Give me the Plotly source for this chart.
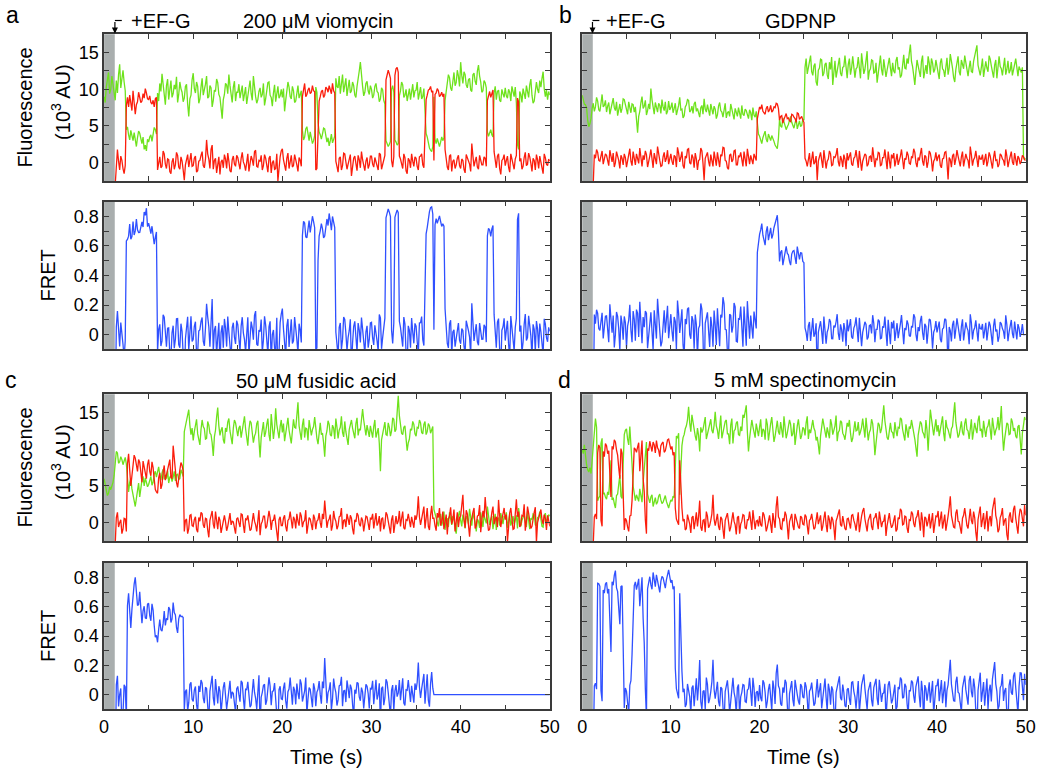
import plotly.graph_objects as go
from plotly.subplots import make_subplots

W, H = 1050, 773

# ---------------- data ----------------
frame_interval_s = 0.125
n_frames = 401
time_s = [round(i * frame_interval_s, 3) for i in range(n_frames)]
injection_dead_time_s = 1.2   # grey box: before EF-G arrives

# panel a : 200 uM viomycin
a_green = [
    9.0, 8.2, 10.3, 11.6, 12.3, 9.4, 10.0, 11.8, 10.7, 9.1, 8.5, 11.2, 9.5, 12.0, 13.4, 10.2, 11.5, 12.6, 11.0, 9.8,
    4.5, 4.9, 3.8, 3.1, 4.4, 3.6, 3.0, 4.1, 2.8, 2.2, 3.4, 4.3, 4.0, 3.0, 2.6, 3.5, 1.8, 2.4, 1.6, 3.2,
    2.8, 3.5, 3.8, 2.9, 4.2, 4.8, 4.5, 3.9, 9.5, 8.4, 10.8, 9.7, 12.1, 10.3, 9.0, 7.9, 10.5, 11.4, 8.6, 10.0,
    11.2, 8.9, 9.4, 10.6, 10.0, 11.7, 8.2, 9.3, 11.0, 10.1, 9.6, 8.3, 8.8, 10.4, 10.7, 8.0, 6.3, 8.7, 9.2, 11.3,
    12.2, 10.1, 9.5, 11.0, 10.4, 8.1, 8.7, 10.3, 11.5, 9.2, 9.8, 10.7, 11.8, 8.8, 9.0, 10.5, 10.2, 7.6, 8.5, 9.9,
    9.7, 11.4, 10.9, 9.3, 8.9, 7.4, 6.0, 8.6, 9.3, 10.8, 10.6, 9.4, 12.0, 10.5, 9.1, 8.2, 10.3, 11.1, 8.4, 9.6,
    9.6, 10.7, 8.8, 9.9, 10.5, 8.4, 9.2, 10.3, 8.0, 9.0, 10.1, 11.2, 9.4, 8.5, 11.8, 10.0, 9.0, 8.1, 8.6, 9.7,
    10.2, 8.9, 9.3, 10.8, 7.8, 8.7, 9.9, 10.9, 11.0, 9.2, 8.9, 7.7, 9.5, 10.6, 8.3, 9.4, 10.4, 8.8, 9.1, 10.0,
    8.9, 10.1, 7.0, 8.5, 9.6, 11.0, 10.3, 9.0, 8.7, 10.4, 9.8, 8.2, 8.4, 9.5, 10.5, 8.8, 9.2, 9.8, 4.4, 3.1,
    3.5, 4.6, 4.9, 3.8, 3.0, 4.2, 3.4, 2.6, 3.0, 3.7, 10.3, 9.6, 5.5, 4.2, 3.8, 3.2, 3.9, 4.7, 4.6, 3.6,
    2.8, 3.4, 2.3, 3.0, 3.9, 2.7, 3.2, 3.6, 11.5, 10.4, 10.2, 11.8, 9.4, 10.9, 12.0, 9.6, 10.6, 11.5, 9.1, 10.2,
    11.3, 9.5, 9.8, 11.0, 10.5, 9.2, 8.9, 10.4, 11.9, 12.5, 13.7, 11.6, 10.4, 9.1, 9.6, 10.8, 11.1, 9.8, 9.3, 10.5,
    10.0, 8.8, 9.2, 10.4, 10.8, 9.7, 9.5, 8.3, 8.7, 10.2, 9.9, 8.5, 8.0, 3.0, 2.6, 2.2, 2.5, 2.9, 10.0, 10.5,
    9.6, 3.1, 2.8, 2.4, 2.6, 9.1, 9.8, 11.0, 10.6, 8.9, 9.2, 10.0, 8.4, 9.6, 10.1, 8.6, 9.5, 10.7, 8.9, 9.8,
    9.9, 11.0, 8.6, 9.4, 10.3, 8.7, 9.0, 10.1, 7.0, 4.0, 3.5, 2.7, 2.0, 1.7, 1.5, 2.2, 9.0, 3.2, 2.6, 3.3,
    2.7, 2.2, 2.8, 3.5, 3.0, 3.4, 8.5, 9.9, 10.5, 12.0, 11.6, 10.2, 9.8, 11.4, 12.3, 10.5, 10.9, 12.6, 11.8, 10.4,
    13.7, 11.9, 10.8, 12.4, 12.0, 10.6, 10.2, 11.3, 11.5, 9.9, 9.7, 12.0, 12.2, 11.1, 10.6, 12.5, 13.3, 11.8, 11.0, 9.6,
    9.8, 11.2, 10.9, 10.2, 4.2, 3.6, 4.0, 4.5, 3.8, 3.5, 9.5, 10.4, 8.6, 9.7, 9.9, 8.5, 8.3, 10.0, 9.4, 8.9,
    10.2, 9.1, 8.8, 10.0, 9.6, 8.4, 10.4, 9.5, 9.0, 10.3, 8.1, 2.5, 1.8, 9.7, 9.3, 8.2, 10.1, 9.4, 8.7, 10.5,
    9.8, 8.9, 10.6, 11.4, 9.2, 8.1, 8.4, 9.6, 11.0, 10.0, 9.5, 11.2, 10.3, 11.5, 12.4, 10.1, 9.0, 9.9, 8.6, 9.7,
    9.2,
]
a_red = [
    None, None, None, None, None, None, None, None, None, None, -3.0, 0.6, 1.8, 0.2, -1.0, 0.9, 0.3, -0.8, -1.5, -0.4,
    7.8, 8.9, 7.6, 9.2, 8.0, 7.1, 9.8, 8.5, 6.6, 7.9, 8.3, 9.6, 9.0, 8.2, 8.4, 9.4, 8.8, 10.1, 9.5, 8.7,
    8.6, 9.1, 8.2, 8.0, 8.5, 7.6, 8.7, 8.9, -1.0, 0.3, 0.8, -0.7, -0.5, 1.6, 1.2, -0.2, -0.8, 0.5, 0.4, -1.2,
    -1.5, 0.1, 0.6, -0.9, -0.3, 1.4, 1.0, -0.6, -0.9, 0.8, 0.2, -1.0, -2.4, -0.3, 0.7, 1.1, -0.6, 0.4, 1.3, -0.5,
    -0.4, 0.6, 0.9, -1.3, -1.1, 0.2, 0.3, 1.0, 1.5, -0.4, -0.7, 0.5, 3.1, 1.2, 0.5, -0.8, 1.8, 2.4, -0.9, 0.3,
    0.6, -1.4, -0.2, 0.8, -1.6, 0.1, 0.4, -0.7, 1.1, 0.5, -0.8, 1.3, 0.2, -1.1, -1.3, 0.4, 0.9, -0.2, -0.5, 1.0,
    0.7, -0.3, -0.9, 0.6, 1.4, 0.1, -0.3, -1.1, 0.5, 1.2, -1.2, -0.2, 0.9, 0.4, -0.4, 1.5, 1.7, -0.5, -0.6, 0.3,
    0.2, 1.0, -1.0, -0.4, 1.1, 0.6, -0.2, -1.3, 0.6, 0.9, -1.4, 0.0, 0.3, -0.9, -0.8, 1.2, -2.5, -0.6, 0.8, 1.6,
    1.9, 0.4, -0.5, -1.1, 0.6, 1.3, -0.8, 0.2, 1.0, -0.6, -0.4, 1.1, 0.5, -0.3, -1.2, 0.7, 0.3, -0.5, 9.0, 10.2,
    10.8, 9.0, 9.3, 9.9, 10.2, 9.4, 9.6, 10.5, 9.8, 9.7, -1.0, -0.8, 5.5, 8.4, 9.0, 9.7, 9.9, 8.9, 9.2, 10.3,
    10.1, 9.6, 10.5, 10.0, 9.4, 10.8, 9.8, 9.5, 0.2, -0.5, -1.3, 0.6, 0.8, -1.0, -0.4, 1.3, 1.2, 0.1, -0.9, -0.2,
    0.3, 1.1, -1.8, -0.6, 0.6, 0.9, -0.2, -1.1, 1.0, 0.4, -0.7, 1.5, 0.4, -0.5, -1.1, 0.2, 0.7, -0.8, -0.3, 0.9,
    0.9, -0.2, -0.6, 0.7, 0.2, -0.4, -1.0, 1.3, 1.1, -0.9, -0.2, 0.5, 1.0, 11.3, 11.8, 12.6, 12.1, 11.5, 0.3, -0.6,
    0.8, 11.9, 12.8, 13.0, 12.3, 0.9, 0.5, -0.3, -0.8, 1.2, 0.7, -1.1, -1.5, 0.6, 0.3, -0.7, 1.2, 0.2, -0.5, 0.8,
    0.6, -0.5, -1.0, 0.8, 0.9, 1.2, -0.3, -0.7, 4.0, 8.6, 9.2, 9.9, 10.0, 10.4, 9.6, 9.8, 0.3, 9.3, 9.5, 10.1,
    9.8, 9.0, 9.2, 9.6, 9.0, 9.4, 1.8, 0.5, -0.6, -1.0, 0.9, 1.1, -1.2, 0.2, 0.4, -0.8, -0.3, 0.6, 1.0, -0.4,
    -0.8, 0.5, 0.3, -0.9, -1.4, 1.1, 0.7, 0.3, -0.2, -1.2, 2.6, 0.9, -0.5, 0.2, 0.8, -0.6, -0.9, 1.0, 0.4, -0.3,
    -0.3, 0.8, 0.6, -0.5, 8.5, 9.2, 9.7, 8.9, 9.6, 9.9, 1.5, 0.4, -0.7, 0.9, 1.2, -0.8, -1.6, 0.3, 0.5, 1.1,
    -0.4, 0.3, 0.9, -0.6, -1.3, 1.2, 0.3, -0.2, -0.9, 0.5, 1.0, 8.8, 8.3, 0.2, 0.6, -0.9, -0.5, 0.7, 1.4, -0.4,
    -0.2, 1.3, 0.8, -0.1, -1.2, 0.6, 0.3, -1.0, 1.1, 0.4, -0.8, 0.9, 0.2, -0.7, -1.5, 1.2, 0.7, -0.2, -0.4, 0.5,
    0.2,
]
a_bleach_s = None

# panel b : GDPNP
b_green = [
    9.2, 8.6, 8.0, 7.9, 7.5, 5.8, 4.9, 5.3, 6.0, 7.4, 8.1, 7.0, 7.6, 8.9, 8.4, 7.2, 7.0, 8.1, 9.3, 7.6,
    7.8, 8.5, 6.9, 7.7, 8.2, 6.6, 7.3, 8.0, 8.8, 7.5, 7.1, 8.3, 6.4, 7.2, 8.0, 6.8, 7.4, 8.7, 8.6, 7.9,
    7.2, 6.6, 8.3, 7.5, 6.8, 8.0, 7.9, 6.9, 7.6, 5.9, 4.1, 6.3, 7.0, 8.2, 9.0, 7.4, 7.7, 8.5, 6.5, 7.1,
    8.0, 7.3, 10.1, 8.6, 7.3, 6.6, 8.2, 7.5, 6.9, 8.1, 7.8, 6.7, 8.6, 7.6, 7.1, 8.3, 6.6, 7.0, 8.4, 7.2,
    7.5, 8.2, 6.8, 7.4, 8.1, 6.5, 7.0, 7.8, 8.9, 7.2, 7.3, 6.1, 6.4, 7.6, 7.9, 8.6, 8.5, 6.9, 7.1, 7.7,
    6.7, 8.0, 8.3, 7.0, 7.4, 6.8, 6.2, 7.5, 7.8, 6.6, 8.7, 7.3, 6.9, 7.9, 7.2, 6.4, 8.0, 7.1, 6.6, 7.7,
    7.3, 6.0, 6.5, 7.7, 8.2, 7.1, 6.9, 6.2, 7.6, 8.1, 6.1, 6.8, 7.0, 6.3, 8.0, 7.2, 6.7, 5.9, 7.4, 6.8,
    6.3, 7.5, 6.9, 6.0, 7.8, 6.6, 6.4, 7.3, 7.1, 6.5, 6.0, 7.2, 6.8, 5.8, 7.5, 6.5, 6.2, 7.0, 4.8, 3.9,
    3.6, 3.0, 2.6, 3.4, 3.8, 4.3, 3.2, 2.8, 3.9, 3.5, 3.0, 3.7, 3.4, 2.9, 2.4, 2.2, 1.9, 3.3, 5.9, 5.0,
    4.8, 6.1, 5.6, 5.3, 4.5, 4.9, 5.2, 5.8, 6.3, 5.5, 5.0, 4.7, 5.4, 6.0, 4.6, 5.2, 5.7, 4.9, 5.1, 5.9,
    5.8, 13.0, 14.2, 12.1, 12.8, 13.9, 14.6, 12.4, 11.9, 13.2, 13.5, 11.0, 10.5, 12.6, 12.9, 14.1, 14.0, 11.8, 12.2, 13.4,
    13.6, 12.0, 11.4, 13.7, 12.7, 14.4, 10.6, 12.3, 13.9, 11.6, 12.5, 13.8, 14.3, 12.2, 11.8, 13.0, 13.1, 14.6, 12.4, 11.5,
    13.4, 14.2, 12.0, 12.9, 14.5, 13.1, 11.6, 12.8, 13.0, 14.4, 12.6, 11.5, 14.9, 13.3, 12.1, 12.7, 13.7, 15.2, 11.3, 12.5,
    12.8, 14.0, 13.9, 12.2, 12.3, 13.6, 10.9, 12.4, 13.2, 14.6, 12.7, 11.9, 14.1, 13.0, 11.7, 12.6, 13.5, 14.3, 12.9, 11.8,
    13.6, 12.5, 12.2, 13.9, 14.4, 12.7, 13.0, 11.6, 11.9, 13.4, 14.7, 12.9, 12.8, 14.2, 13.5, 14.9, 16.1, 13.8, 13.1, 11.9,
    10.6, 12.4, 14.0, 13.2, 12.5, 11.7, 13.8, 14.6, 11.5, 12.8, 13.3, 12.1, 14.5, 13.6, 12.0, 14.2, 13.6, 12.3, 12.7, 14.0,
    13.2, 12.1, 11.4, 13.6, 14.2, 12.8, 12.6, 11.7, 13.5, 14.3, 12.0, 12.9, 14.8, 13.4, 12.9, 11.6, 11.0, 12.7, 13.7, 14.5,
    12.4, 11.9, 14.0, 13.1, 12.8, 14.6, 13.4, 12.2, 11.8, 13.0, 13.9, 12.4, 12.3, 13.8, 14.4, 15.1, 16.0, 13.3, 12.5, 11.9,
    13.0, 14.2, 11.7, 12.6, 13.8, 12.9, 12.4, 14.6, 14.1, 13.2, 12.2, 11.6, 13.3, 14.0, 11.5, 12.8, 14.5, 13.1, 12.8, 11.9,
    13.6, 14.3, 12.0, 12.7, 13.9, 12.2, 12.6, 13.7, 11.9, 12.5, 13.4, 14.2, 12.7, 11.8, 13.1, 12.6, 12.3, 13.0, 0.8, 0.4,
    0.6,
]
b_red = [
    None, None, None, None, None, None, None, None, None, None, -3.0, 1.1, 0.6, 1.8, 1.4, 0.3, 0.2, 0.9, 1.6, -0.2,
    0.5, 1.2, 1.0, 0.4, -0.4, 1.7, 0.8, 0.1, 1.3, -0.6, 0.0, 1.5, 0.9, 0.3, -0.8, 1.0, 0.6, -0.3, 1.2, 0.7,
    -0.6, 0.4, 0.9, 1.9, 0.2, -0.4, 1.5, 0.8, -0.3, 1.2, 0.7, -0.1, 2.0, 0.6, -0.5, 1.0, 0.4, 1.6, 1.1, -0.6,
    0.0, 0.9, 1.8, 0.2, -0.7, 1.3, 0.5, -0.2, 2.2, 1.0, 0.3, -0.5, -0.4, 0.8, 1.4, 0.1, 0.6, 1.7, -0.2, 0.5,
    1.2, 0.2, -0.3, 1.0, 0.8, -0.6, 2.1, 1.3, 0.1, 0.7, 1.5, -0.4, -0.8, 0.9, 0.6, 1.8, 1.9, 0.0, -0.2, 1.1,
    0.7, -0.7, 1.3, 0.5, -1.0, 0.3, 0.4, 2.0, 1.6, -0.1, -2.4, 0.6, 0.9, 1.4, 0.2, -0.5, 1.1, 0.4, -0.5, 1.5,
    0.5, -0.4, 1.4, 0.6, -0.6, 1.1, 0.9, 2.1, 2.0, 0.3, 0.2, -0.7, -0.9, 1.0, 1.2, 0.1, 0.4, 1.6, 1.7, -0.3,
    -0.3, 0.9, 0.8, 1.4, 0.1, -0.5, 1.5, 0.7, -0.5, 1.9, 0.6, -0.2, 1.0, 0.4, -0.2, 1.2, 0.7, 0.3, 6.0, 7.0,
    7.6, 7.3, 7.9, 7.0, 6.8, 6.6, 7.4, 7.7, 6.9, 7.2, 7.8, 6.9, 7.1, 7.6, 7.5, 8.1, 8.0, 7.4, 5.8, 6.3,
    6.4, 5.4, 5.9, 6.4, 6.7, 6.0, 6.1, 5.7, 5.6, 6.6, 6.5, 6.2, 6.0, 5.5, 6.8, 6.7, 5.9, 6.1, 6.3, 5.8,
    5.5, 0.6, 0.2, -0.5, 0.8, 1.3, -0.6, 0.4, 1.5, -0.2, 0.1, 0.9, -2.4, 0.2, 0.9, 1.4, 0.3, -0.7, 1.7, 0.6,
    -0.8, 0.2, 0.5, 1.6, 1.2, -0.4, -0.3, 0.8, 0.7, 1.1, 2.0, 0.1, -0.5, 0.9, 0.4, -0.6, 1.1, 0.5, -0.9, 1.3,
    0.3, 0.9, 1.4, -0.2, -0.4, 0.6, 0.8, 1.7, 0.0, -0.7, 1.6, 0.4, -1.1, 0.2, 0.6, 1.2, 1.0, -0.5, -0.2, 0.8,
    0.9, 0.1, 2.1, 1.0, -0.6, 0.5, 0.4, 1.4, 1.3, -0.4, -0.3, 0.7, 0.7, 1.8, 0.2, -0.9, 1.5, 0.3, -0.8, 1.1,
    0.6, 1.3, -0.5, 0.3, 1.2, -0.3, 0.2, 0.9, 1.8, 0.5, -0.9, 0.6, 0.4, 1.5, 1.0, -0.1, -0.2, 0.8, 0.7, 1.9,
    1.4, 0.0, -0.6, 0.7, 0.3, 1.2, 2.0, 0.2, -0.4, 1.0, 0.8, -0.7, 0.1, 1.6, 1.3, 0.4, -1.2, 0.2, 0.5, 1.4,
    0.2, 0.8, 1.1, -0.4, -0.7, 0.5, 0.6, 1.4, 1.5, 0.0, -2.3, 0.7, 0.4, -0.6, 0.9, 1.2, -0.3, 0.5, 1.7, 0.9,
    0.1, -0.5, 0.8, 1.5, -0.5, 0.3, 1.2, 0.6, 0.3, -0.8, 2.2, 1.1, -0.4, 0.4, 0.7, 1.6, 0.0, -0.6, 1.0, 0.5,
    0.5, 1.1, -0.3, 0.6, 1.2, -0.5, 0.2, 1.4, 0.9, 0.0, -0.8, 0.7, 1.6, 0.3, 0.4, -0.6, -0.2, 1.2, 1.0, 0.5,
    0.3, -0.4, 1.8, 0.9, -0.6, 0.2, 0.7, 1.5, 0.1, -0.3, 1.3, 0.6, -0.4, 0.9, 0.6, -0.2, 0.2, 1.0, 0.8, 0.4,
    0.3,
]
b_bleach_s = 49.7

# panel c : 50 uM fusidic acid
c_green = [
    6.0, 5.3, 4.8, 3.7, 4.0, 4.9, 4.5, 5.0, 5.5, 6.4, 8.8, 9.7, 9.5, 8.1, 8.3, 9.0, 8.6, 7.9, 8.4, 8.9,
    8.0, 5.2, 4.2, 5.5, 6.0, 4.6, 3.8, 3.0, 2.2, 3.3, 4.5, 5.4, 3.5, 4.8, 5.8, 6.3, 5.0, 6.1, 5.6, 4.9,
    5.2, 6.0, 6.3, 5.1, 5.5, 6.6, 7.0, 6.2, 7.2, 7.6, 6.5, 5.8, 6.8, 7.3, 5.9, 6.5, 6.0, 7.1, 5.4, 6.2,
    6.4, 5.6, 6.2, 7.0, 5.7, 6.5, 6.6, 5.9, 6.0, 7.2, 6.8, 6.3, 12.4, 13.1, 13.8, 14.9, 15.4, 13.3, 12.0, 12.9,
    11.2, 12.4, 13.5, 14.1, 12.1, 11.0, 10.6, 12.7, 14.0, 13.1, 12.8, 11.4, 11.5, 13.8, 13.3, 12.2, 12.0, 10.9, 9.1, 11.7,
    12.6, 14.4, 15.7, 13.2, 11.9, 12.6, 13.0, 11.3, 10.8, 12.9, 12.4, 13.7, 14.2, 12.5, 11.6, 10.7, 12.9, 14.0, 13.6, 12.3,
    11.8, 12.9, 13.2, 11.6, 12.4, 13.5, 14.5, 12.8, 11.3, 10.5, 12.7, 13.9, 13.6, 12.1, 10.9, 11.8, 12.2, 13.5, 13.9, 11.2,
    8.9, 11.6, 12.5, 13.7, 11.7, 12.3, 13.4, 14.2, 12.0, 11.1, 14.8, 13.0, 11.4, 12.8, 15.6, 13.4, 12.6, 11.5, 13.1, 14.0,
    12.3, 13.5, 11.1, 12.2, 13.7, 14.3, 12.6, 11.4, 10.8, 12.5, 14.1, 13.0, 12.9, 14.6, 16.4, 13.2, 12.0, 11.3, 13.3, 14.2,
    11.6, 12.9, 12.8, 11.2, 14.0, 13.1, 11.9, 12.7, 13.1, 14.4, 12.4, 11.5, 10.7, 12.8, 13.6, 12.0, 12.2, 10.9, 9.0, 11.8,
    12.5, 13.9, 13.4, 12.0, 11.8, 13.3, 12.9, 11.4, 14.2, 13.0, 11.5, 12.6, 13.0, 14.5, 12.3, 11.7, 13.8, 12.4, 11.2, 10.6,
    12.7, 13.6, 14.0, 12.9, 12.1, 11.5, 13.5, 14.3, 11.9, 12.8, 12.6, 13.9, 15.5, 14.0, 12.8, 11.9, 13.3, 12.5, 11.7, 13.2,
    12.4, 11.6, 13.1, 14.0, 11.6, 12.5, 12.9, 10.8, 7.0, 11.3, 12.2, 13.4, 13.7, 12.0, 11.9, 13.6, 13.0, 11.8, 12.5, 14.3,
    14.1, 12.4, 12.7, 15.0, 17.3, 14.6, 13.5, 12.2, 12.0, 13.0, 13.2, 11.5, 9.8, 10.9, 11.4, 12.8, 12.6, 13.8, 13.4, 12.1,
    11.8, 13.0, 12.9, 14.0, 13.6, 12.3, 12.1, 13.4, 13.8, 12.0, 12.4, 13.5, 13.2, 12.2, 12.7, 13.1, 1.8, 1.2, 0.9, 0.1,
    -0.5, 0.8, 1.2, -0.4, 0.2, 1.5, -1.0, 0.3, 0.6, -0.6, 1.4, 0.5, -0.3, 0.9, 0.4, -0.8, -1.5, 0.2, 0.8, 1.6,
    0.3, -0.5, 1.1, 0.4, -0.8, 0.9, 0.6, -0.2, 1.9, 0.7, -0.4, 1.3, 0.8, 0.0, -1.2, 0.5, 0.2, -0.7, 1.4, 0.6,
    -0.6, 1.0, 0.5, -0.1, 2.2, 1.1, -0.3, 0.4, 0.9, -0.9, 0.1, 1.2, -1.0, 0.3, 0.7, -0.4, 1.3, 0.6, -0.2, 0.9,
    0.6, 1.4, -0.7, 0.2, 1.2, -0.4, 0.3, 0.9, -0.2, 0.5, 1.0, -0.8, 2.0, 0.7, -0.5, 0.3, 0.7, 1.1, 0.1, -0.6,
    1.5, 0.4, -0.9, 0.6, 0.4, 1.2, 1.1, -0.3, -0.4, 0.7, 0.8, 1.5, 0.2, -0.5, -0.6, 0.9, 1.3, 0.0, 0.5, 1.1,
    0.9,
]
c_red = [
    None, None, None, None, None, None, None, None, None, None, -3.0, 0.7, 1.4, -0.6, 0.0, 0.4, -1.5, -0.9, 0.6, 0.5,
    -1.2, 8.0, 9.4, 7.0, 5.0, 6.4, 8.5, 9.2, 8.8, 7.8, 7.0, 8.6, 8.2, 6.9, 5.5, 8.4, 7.6, 6.7, 6.0, 7.9,
    8.6, 7.0, 6.4, 8.3, 7.5, 5.9, 4.5, 4.2, 4.0, 6.1, 6.8, 4.6, 5.2, 6.9, 7.8, 5.8, 6.5, 7.4, 8.0, 8.6,
    6.2, 6.0, 10.5, 8.9, 6.8, 5.5, 4.8, 6.3, 7.2, 8.2, 7.8, 7.0, -1.2, 0.3, 0.5, -1.5, -0.8, 1.0, 1.1, -0.4,
    -0.5, 0.4, 0.8, -0.9, -1.3, 0.7, 0.2, 1.4, 1.2, -0.3, -0.7, 0.6, 0.5, -1.0, -2.0, 0.3, 0.9, 1.6, -0.2, -0.8,
    1.5, 0.2, -0.9, 0.8, 0.3, -1.4, -0.4, 0.6, 1.0, 0.1, -1.1, -0.5, 0.6, 1.3, -0.3, 0.2, 0.1, -0.8, -1.5, 0.5,
    0.7, 0.0, -0.6, 1.2, 1.1, -0.3, -1.4, 0.5, 0.4, 1.0, 0.0, -1.1, -0.9, 0.6, 1.3, 0.2, -0.3, -1.2, 0.6, 1.7,
    -1.7, -0.2, 0.2, 0.9, 0.9, -0.8, -0.5, 0.4, 1.6, 0.7, -1.0, 0.3, 0.3, 1.1, -0.2, -0.9, -2.5, 0.4, 0.8, -0.4,
    -0.4, 0.6, 1.0, -0.5, -1.2, 0.3, 0.5, 1.5, -0.1, -0.8, 0.8, 0.4, -0.8, 1.2, 0.2, -0.4, 1.4, 0.9, -0.6, 0.1,
    0.3, 1.7, -1.5, -0.3, 0.7, 0.5, -0.2, -1.0, 1.1, 0.6, -0.9, 0.2, 0.4, 1.3, 0.0, -0.7, 1.2, 0.5, 3.0, 0.9,
    -0.7, 0.2, 0.5, 1.1, -1.1, -0.4, 1.6, 0.6, 0.2, -0.9, -0.4, 0.8, 0.9, 2.0, -0.9, 0.3, 0.4, -0.6, 1.2, 0.5,
    -0.3, 1.0, 0.6, -0.8, -1.6, 0.4, 0.1, 1.3, 1.0, -0.2, -0.5, 0.7, 0.3, -1.2, -0.2, 0.9, 0.8, 0.1, -1.0, 0.6,
    0.5, 1.2, -0.8, 0.3, 1.3, -0.4, 0.0, 0.9, -1.2, 0.5, 0.7, -0.9, -0.3, 1.4, 1.1, 0.2, -0.6, -1.5, 0.4, 1.0,
    -1.4, 0.3, 0.9, -0.2, 0.2, 1.6, -0.5, 0.6, 1.5, -0.7, -0.9, 0.4, 0.3, 1.2, -0.1, -0.6, 0.8, 0.2, -0.7, 1.0,
    0.4, 1.2, 3.6, 0.8, -0.3, 0.5, 1.2, 2.2, -0.8, 0.3, 2.0, -0.5, -1.0, 1.0, 2.3, 0.6, 0.6, -0.4, -1.1, 1.3,
    0.7, 2.0, -0.4, 0.2, 1.5, -0.9, 0.3, 1.1, -1.6, 0.5, 0.9, 2.1, -0.2, 0.4, 1.8, -1.2, 0.1, 1.4, -0.6, 0.7,
    0.9, 2.1, 3.8, 0.4, -0.7, 1.7, 1.2, -0.3, -1.9, 0.2, 0.6, 1.4, 2.0, -0.8, -0.4, 0.9, 1.0, 2.4, -1.3, 0.3,
    1.6, 0.7, 3.5, 1.5, 0.2, -1.1, -0.9, 0.6, 1.4, 2.2, -0.2, 0.5, 0.8, -0.6, 3.1, 1.0, -0.6, 0.4, 1.1, 2.0,
    0.4, 1.1, -2.6, 0.3, 1.3, 2.0, 0.2, -0.9, -0.8, 1.2, 3.2, 0.8, 1.5, -0.6, -0.3, 1.0, 0.9, 2.5, -1.1, 0.2,
    2.2, 1.3, 0.5, -0.8, -0.5, 0.7, 1.4, 2.1, -2.7, 0.0, 0.7, 1.5, 1.8, 0.4, -0.2, 1.1, 0.6, -1.0, 1.0, 0.3,
    -0.5,
]
c_bleach_s = 37.0

# panel d : 5 mM spectinomycin
d_green = [
    10.0, 9.4, 10.6, 9.0, 7.9, 7.2, 6.9, 7.5, 6.7, 8.4, 10.6, 12.5, 14.2, 13.0, 3.0, 3.4, 3.6, 10.8, 11.5, 3.9,
    4.0, 3.5, 3.2, 4.2, 3.8, 6.0, 8.5, 3.1, 3.4, 2.6, 2.0, 3.7, 3.9, 5.2, 6.5, 3.6, 3.3, 8.0, 12.0, 12.6,
    12.8, 11.4, 10.6, 13.1, 9.5, 8.0, 5.0, 3.5, 3.0, 3.8, 3.4, 2.9, 4.6, 3.6, 2.8, 5.5, 7.8, 10.0, 11.0, 3.9,
    3.2, 2.7, 3.5, 3.8, 2.2, 3.0, 3.4, 2.5, 2.8, 3.6, 3.9, 3.1, 2.6, 2.8, 3.3, 3.7, 2.9, 2.4, 2.0, 2.6,
    3.1, 2.9, 3.6, 3.4, 9.0, 11.8, 11.5, 12.2, 3.8, 8.8, 10.5, 11.6, 12.0, 12.8, 13.2, 14.0, 15.8, 13.6, 12.4, 14.7,
    13.6, 12.2, 11.8, 11.2, 12.9, 11.9, 9.7, 13.0, 12.3, 12.7, 13.5, 14.4, 11.4, 12.0, 12.8, 13.4, 14.1, 12.6, 12.2, 13.3,
    15.1, 13.2, 12.6, 11.4, 13.4, 14.6, 11.5, 12.3, 12.9, 13.8, 14.0, 12.1, 12.1, 10.7, 13.3, 14.2, 10.8, 12.5, 12.7, 13.6,
    13.8, 12.0, 11.9, 13.1, 12.5, 14.7, 14.3, 15.2, 16.0, 12.4, 9.7, 11.5, 12.8, 14.0, 13.1, 12.2, 11.6, 13.5, 12.4, 11.8,
    13.0, 14.1, 11.7, 12.8, 12.6, 11.3, 14.2, 13.4, 11.2, 12.6, 13.5, 14.4, 12.3, 11.0, 11.8, 12.9, 13.9, 12.4, 12.0, 13.7,
    12.7, 11.6, 14.5, 13.3, 11.5, 12.2, 12.9, 14.0, 13.4, 11.8, 12.1, 13.6, 10.6, 12.3, 13.2, 14.1, 12.5, 11.4, 11.9, 13.0,
    12.8, 11.9, 13.6, 14.5, 11.4, 12.7, 12.2, 13.5, 14.0, 12.9, 12.5, 11.2, 11.7, 10.6, 9.3, 11.8, 12.9, 14.2, 13.3, 12.1,
    11.6, 13.0, 12.4, 11.5, 14.1, 13.4, 12.0, 12.8, 13.2, 14.6, 11.1, 12.3, 12.6, 13.9, 13.7, 12.2, 11.9, 11.3, 12.8, 13.6,
    13.1, 14.0, 12.2, 11.0, 11.5, 12.8, 13.8, 12.5, 12.6, 13.7, 11.9, 12.4, 13.0, 14.2, 12.4, 11.6, 14.3, 13.0, 11.2, 12.3,
    12.7, 14.1, 13.5, 11.8, 9.2, 10.8, 12.1, 13.6, 13.3, 12.2, 12.8, 14.6, 16.0, 13.9, 12.5, 11.6, 11.3, 12.9, 13.6, 12.4,
    12.3, 11.5, 13.7, 12.6, 11.8, 13.0, 12.9, 14.3, 14.1, 12.7, 12.0, 11.2, 13.4, 12.5, 11.6, 13.1, 12.8, 14.0, 13.2, 12.1,
    11.4, 10.2, 9.0, 11.9, 12.7, 13.8, 13.5, 12.4, 12.1, 11.5, 14.0, 12.6, 9.8, 13.1, 15.4, 14.2, 12.6, 11.9, 13.0, 14.1,
    12.4, 13.3, 11.8, 12.6, 13.6, 14.5, 12.2, 11.1, 14.0, 13.0, 12.7, 11.9, 11.5, 12.8, 13.1, 14.8, 16.4, 13.7, 12.9, 11.6,
    12.0, 13.2, 13.8, 12.3, 11.9, 13.5, 14.2, 12.7, 12.5, 11.4, 13.0, 14.1, 11.3, 12.2, 13.6, 12.8, 12.2, 13.9, 14.6, 12.5,
    12.8, 11.6, 13.9, 12.7, 11.7, 12.9, 13.2, 14.1, 12.4, 11.3, 14.3, 13.0, 11.9, 12.6, 13.0, 14.4, 12.6, 13.8, 15.9, 12.3,
    9.8, 11.4, 12.5, 13.6, 13.4, 12.0, 12.1, 14.2, 13.7, 12.5, 12.9, 11.8, 11.5, 13.1, 13.3, 10.9, 9.3, 12.2, 13.8, 14.4,
    14.0,
]
d_red = [
    None, None, None, None, None, None, None, None, None, None, -3.0, 0.8, 1.2, 0.5, 9.5, 10.6, 10.2, 0.3, -0.5, 9.7,
    9.0, 10.8, 10.5, 9.4, 9.8, 6.0, 3.5, 10.4, 10.0, 11.3, 11.0, 9.9, 9.2, 7.5, 6.0, 10.1, 9.5, 4.0, -1.0, 0.6,
    0.3, -0.6, -1.2, 0.9, 1.0, 3.0, 7.5, 10.2, 10.0, 9.6, 10.3, 10.9, 7.0, 9.8, 11.2, 6.0, 4.2, 0.4, -1.5, 10.1,
    9.8, 11.1, 10.4, 9.7, 11.0, 10.6, 9.5, 11.2, 10.2, 9.9, 9.0, 10.5, 10.8, 11.0, 9.6, 9.8, 10.5, 11.3, 11.4, 10.7,
    10.0, 10.4, 9.2, 9.6, 2.0, 0.5, 0.0, -0.3, 8.5, 4.0, 2.0, 0.2, 0.5, -1.0, -0.8, 1.1, 0.6, -0.2, -1.4, 0.7,
    0.9, -0.9, 0.2, 1.4, -0.5, 0.8, 3.0, -0.6, -1.1, 0.3, 0.4, -1.3, 1.5, 0.9, -0.7, -0.4, 0.3, 1.2, 3.8, 0.5,
    -0.4, 0.6, 1.2, -0.5, -1.0, 0.8, 0.5, -0.9, -2.2, 0.3, 0.8, 1.3, 0.1, -1.2, -0.6, 0.5, 1.4, 0.2, -0.3, -1.6,
    0.7, 0.9, -1.5, -0.2, 0.2, 1.1, 1.0, -0.7, -0.8, 0.4, 0.4, 1.5, -0.1, -1.0, 1.7, 0.6, -0.9, 0.2, 0.3, -0.5,
    0.9, -0.3, -0.5, 1.4, 1.1, 0.2, -1.2, -0.6, 0.4, 1.0, -0.2, -1.4, 1.3, 0.5, -0.7, 2.2, 3.6, 0.8, 0.5, -0.8,
    -0.9, 0.6, 0.2, 1.5, 1.0, -0.4, -2.3, 0.1, 0.6, 1.2, -0.4, -1.0, 1.2, 0.4, 0.0, -0.6, -0.8, 0.9, 0.7, -0.2,
    -0.3, 1.1, 0.8, -0.4, -1.6, 0.3, 0.5, 1.2, 0.1, -0.9, -0.7, 0.6, 1.4, -0.2, 0.3, 1.0, -1.1, -0.5, 0.6, 1.5,
    -0.2, -1.3, 1.0, 0.4, -0.9, 0.8, 0.4, -0.6, -2.4, 0.2, 0.7, 1.3, 1.8, -0.3, -0.5, 0.9, 0.2, -0.8, -1.0, 0.5,
    0.6, -0.4, -0.8, 1.0, 1.1, 0.3, -0.2, -1.1, 0.4, 1.4, -1.3, 0.2, 0.9, 1.6, 2.0, 0.5, -0.5, -1.2, 0.3, 0.8,
    1.2, -0.5, -1.0, 0.6, 0.7, 1.3, -0.3, -0.9, 1.5, 0.4, -0.6, 0.1, 0.2, 1.1, -1.8, -0.4, 0.8, 1.3, 0.0, -0.7,
    -0.4, 0.5, 1.0, -1.2, -0.9, 0.7, 0.5, 1.9, 1.6, -0.3, -0.2, 0.9, 0.8, -0.7, -1.4, 0.4, 0.3, 1.5, 1.2, -0.1,
    -0.6, 0.6, 0.9, 1.7, -0.1, -1.1, 1.4, 0.3, -2.0, 0.8, 0.6, -0.5, 0.2, 1.2, -0.8, 0.4, 1.3, -1.4, -0.3, 0.9,
    0.8, 1.6, -0.5, 0.3, 1.5, -0.8, 0.2, 1.1, -1.1, 0.4, 0.9, 2.1, 3.6, 1.0, 0.4, -0.6, -0.7, 1.3, 1.8, 0.2,
    0.1, -1.0, -1.5, 0.6, 1.0, 2.0, 0.5, -0.4, -0.8, 1.2, 1.9, 0.3, -0.2, 1.5, 0.7, -1.3, -2.5, 0.4, 1.2, 2.2,
    -0.6, 0.5, 1.3, -0.9, 0.2, 1.6, -1.2, 0.4, 0.9, -0.5, 1.7, 2.5, 3.4, 1.0, 0.3, -1.3, -0.9, 0.7, 1.1, 2.0,
    -0.4, 0.3, 0.6, -1.6, -2.4, 0.8, 1.4, 0.2, 0.0, 1.8, 2.3, 0.6, -0.7, -1.5, 0.8, 1.9, 1.6, 0.1, -0.5, 2.4,
    1.0,
]
d_bleach_s = None

panel_letters = ["a", "b", "c", "d"]
panel_titles = ["200 \u03bcM viomycin", "GDPNP", "50 \u03bcM fusidic acid", "5 mM spectinomycin"]
injection_label = "+EF-G"

x_ticks = [0, 5, 10, 15, 20, 25, 30, 35, 40, 45, 50]
x_labels = ["0", "", "10", "", "20", "", "30", "", "40", "", "50"]
fl_ticks = [0, 2.5, 5, 7.5, 10, 12.5, 15]
fl_labels = ["0", "", "5", "", "10", "", "15"]
fret_ticks = [0, 0.1, 0.2, 0.3, 0.4, 0.5, 0.6, 0.7, 0.8]
fret_labels = ["0", "", "0.2", "", "0.4", "", "0.6", "", "0.8"]

for arr in (a_green, a_red, b_green, b_red, c_green, c_red, d_green, d_red):
    assert len(arr) == n_frames, len(arr)


def fret_of(green, red, bleach):
    out = []
    for t, g, r in zip(time_s, green, red):
        if r is None:
            out.append(None)
        elif bleach is not None and t >= bleach:
            out.append(0.0)
        else:
            out.append(r / (r + g))
    return out


# ---------------- style ----------------
GREEN = "#6ee21c"
RED = "#fb1d0c"
BLUE = "#2f50ff"
FRAME = "#3a3a3a"
GREY = "#a9aeae"
FONT = "Liberation Sans, Arial, sans-serif"
LW = 1.3

# pixel geometry
col_x = [(100.5, 552.7), (585.5, 1035.5)]
row_y = [(34.3, 181.0), (201.7, 349.3), (394.3, 541.0), (562.7, 709.3)]

fig = make_subplots(rows=4, cols=2)

panels = [
    dict(g=a_green, r=a_red, b=a_bleach_s, rows=(1, 2), col=1),
    dict(g=b_green, r=b_red, b=b_bleach_s, rows=(1, 2), col=2),
    dict(g=c_green, r=c_red, b=c_bleach_s, rows=(3, 4), col=1),
    dict(g=d_green, r=d_red, b=d_bleach_s, rows=(3, 4), col=2),
]


def axis_suffix(row, col):
    n = (row - 1) * 2 + col
    return "" if n == 1 else str(n)


for p in panels:
    rf, rr = p["rows"]
    c = p["col"]
    fig.add_trace(go.Scatter(x=time_s, y=p["g"], mode="lines",
                             line=dict(color=GREEN, width=LW), showlegend=False,
                             hoverinfo="skip"), row=rf, col=c)
    fig.add_trace(go.Scatter(x=time_s, y=p["r"], mode="lines",
                             line=dict(color=RED, width=LW), showlegend=False,
                             hoverinfo="skip"), row=rf, col=c)
    fig.add_trace(go.Scatter(x=time_s, y=fret_of(p["g"], p["r"], p["b"]), mode="lines",
                             line=dict(color=BLUE, width=LW), showlegend=False,
                             hoverinfo="skip"), row=rr, col=c)

axis_common = dict(showline=True, linecolor=FRAME, linewidth=1.5, mirror="ticks",
                   ticks="inside", ticklen=5, tickwidth=1.2, tickcolor=FRAME,
                   showgrid=False, zeroline=False,
                   tickfont=dict(family=FONT, size=18, color="black"))

for row in range(1, 5):
    for col in range(1, 3):
        x0, x1 = col_x[col - 1]
        y0, y1 = row_y[row - 1]
        fig.update_xaxes(domain=[x0 / W, x1 / W], range=[0, 50], tickmode="array",
                         tickvals=x_ticks,
                         ticktext=x_labels if row == 4 else [""] * len(x_ticks),
                         **axis_common, row=row, col=col)
        is_fret = row in (2, 4)
        tv = fret_ticks if is_fret else fl_ticks
        tt = fret_labels if is_fret else fl_labels
        fig.update_yaxes(domain=[1 - y1 / H, 1 - y0 / H],
                         range=[-0.1, 0.9] if is_fret else [-2.5, 17.5],
                         tickmode="array", tickvals=tv,
                         ticktext=tt if col == 1 else [""] * len(tv),
                         **axis_common, row=row, col=col)
        s = axis_suffix(row, col)
        fig.add_shape(type="rect", xref="x" + s, yref="y" + s + " domain",
                      x0=0, x1=injection_dead_time_s, y0=0, y1=1,
                      fillcolor=GREY, line=dict(width=0), layer="below")


def px(x):
    return x / W


def py(y):
    return 1 - y / H


ann = []
# panel letters
for letter, (x, y) in zip(panel_letters, [(8, 15), (569, 15), (6, 380), (568, 380)]):
    ann.append(dict(text=letter, x=px(x), y=py(y), xref="paper", yref="paper",
                    showarrow=False, xanchor="center", yanchor="middle",
                    font=dict(family=FONT, size=23, color="black")))
# panel titles
for title, (x, y) in zip(panel_titles, [(318, 20.5), (807, 20.5), (316, 381), (812, 380)]):
    ann.append(dict(text=title, x=px(x), y=py(y), xref="paper", yref="paper",
                    showarrow=False, xanchor="center", yanchor="middle",
                    font=dict(family=FONT, size=20, color="black")))
# +EF-G labels with hook arrows
for (xl, xa) in [(125.5, 111.5), (607.5, 596.0)]:
    ann.append(dict(text=injection_label, x=px(xl), y=py(20.5), xref="paper", yref="paper",
                    showarrow=False, xanchor="left", yanchor="middle",
                    font=dict(family=FONT, size=20, color="black")))
    ann.append(dict(text="", x=px(xa), y=py(33.5), xref="paper", yref="paper",
                    ax=0, ay=-13, showarrow=True, arrowhead=2, arrowsize=1,
                    arrowwidth=1.2, arrowcolor="black"))
    fig.add_shape(type="line", xref="paper", yref="paper",
                  x0=px(xa), x1=px(xa + 7), y0=py(20.5), y1=py(20.5),
                  line=dict(color="black", width=1.2))
# y-axis titles
for yc in [107.7, 467.7]:
    ann.append(dict(text="Fluorescence", x=px(20), y=py(yc), xref="paper", yref="paper",
                    showarrow=False, textangle=-90, xanchor="center", yanchor="middle",
                    font=dict(family=FONT, size=20, color="black")))
    ann.append(dict(text="(10<sup>3</sup> AU)", x=px(57), y=py(yc - 6), xref="paper", yref="paper",
                    showarrow=False, textangle=-90, xanchor="center", yanchor="middle",
                    font=dict(family=FONT, size=20, color="black")))
for yc in [275.5, 636.0]:
    ann.append(dict(text="FRET", x=px(43.5), y=py(yc), xref="paper", yref="paper",
                    showarrow=False, textangle=-90, xanchor="center", yanchor="middle",
                    font=dict(family=FONT, size=20, color="black")))
# x-axis titles
for xc in [326.6, 810.5]:
    ann.append(dict(text="Time (s)", x=px(xc), y=py(757), xref="paper", yref="paper",
                    showarrow=False, xanchor="center", yanchor="middle",
                    font=dict(family=FONT, size=20, color="black")))

fig.update_layout(width=W, height=H, margin=dict(l=0, r=0, t=0, b=0),
                  paper_bgcolor="white", plot_bgcolor="white",
                  font=dict(family=FONT, color="black"), annotations=ann,
                  showlegend=False)

fig.write_html("out.html", config={"displayModeBar": False},
               post_script="document.body.style.margin='0px';document.body.style.padding='0px';")
